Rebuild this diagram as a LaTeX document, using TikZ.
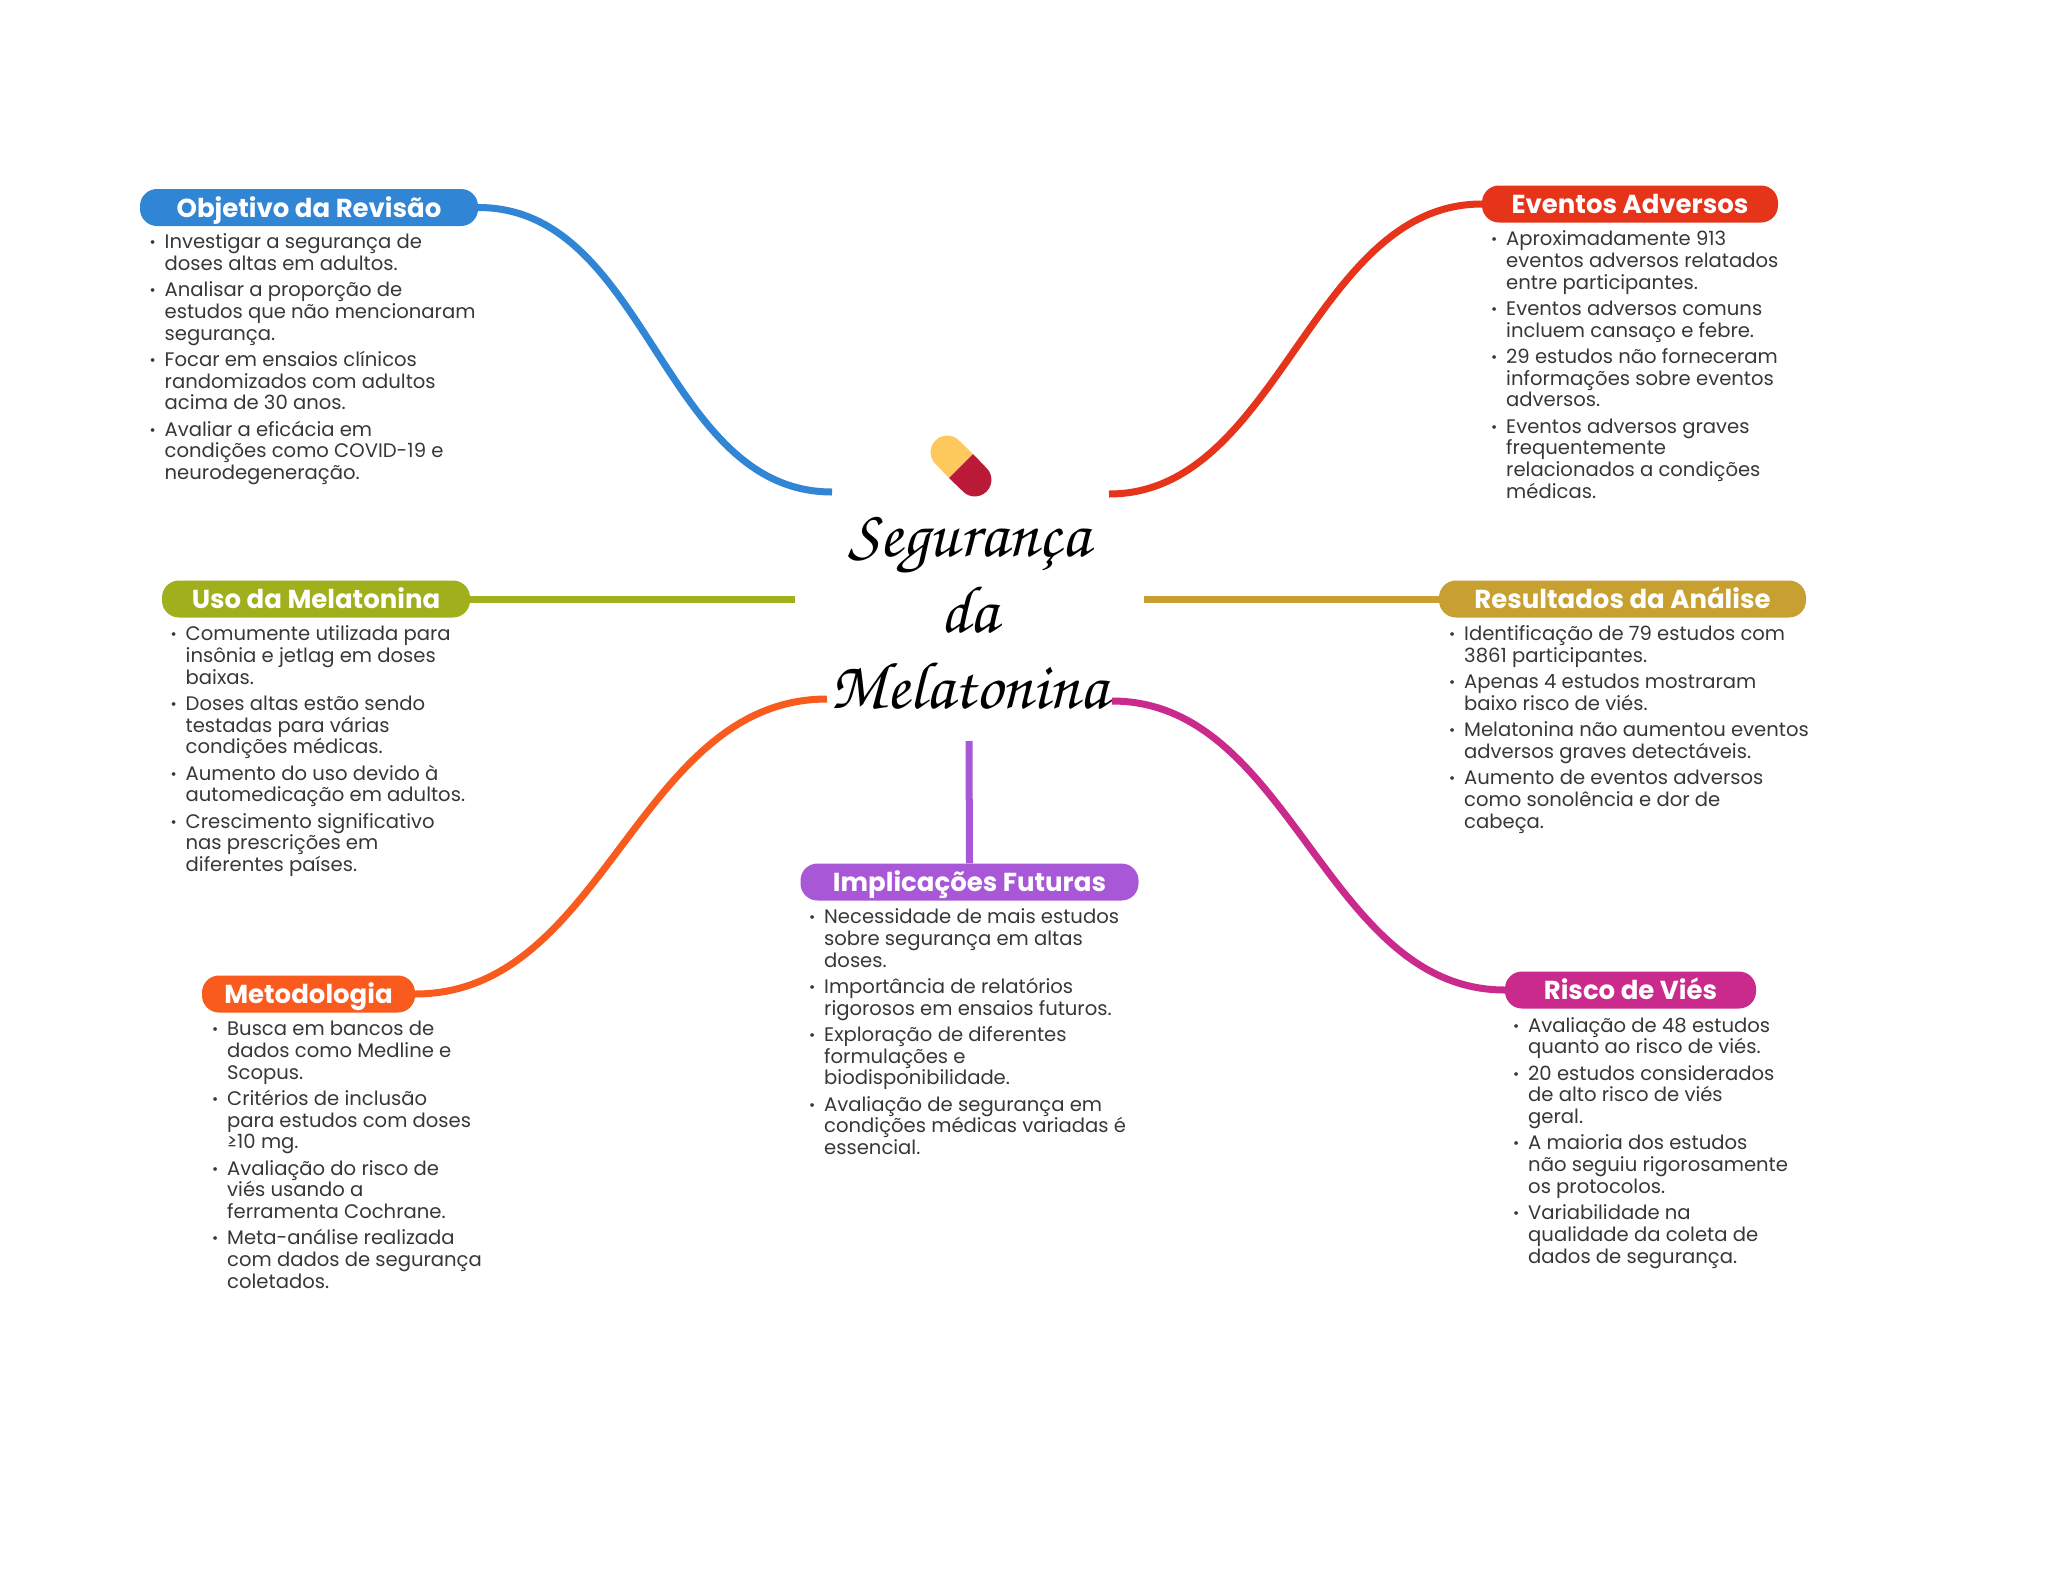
\documentclass[tikz,border=0pt]{standalone}
\usepackage[T1]{fontenc}
\usepackage{fontspec}
\setmainfont{Poppins}
\usepackage{xcolor}
\usetikzlibrary{positioning}
\definecolor{revblue}{RGB}{49,133,213}
\definecolor{advred}{RGB}{229,52,26}
\definecolor{useolive}{RGB}{160,176,28}
\definecolor{resgold}{RGB}{200,160,50}
\definecolor{metorange}{RGB}{249,90,30}
\definecolor{futpurple}{RGB}{168,87,214}
\definecolor{biasmagenta}{RGB}{201,42,140}
\definecolor{pillyellow}{RGB}{253,200,92}
\definecolor{pillred}{RGB}{186,26,56}
\definecolor{bodygrey}{RGB}{55,55,55}
\newcommand{\bul}{\leavevmode\llap{\raisebox{1pt}{\fontsize{15}{15}\selectfont\textbullet}\hspace{9pt}}}
\newcommand{\scripttitle}{\fontencoding{T1}\fontfamily{pzc}\fontseries{mb}\fontshape{it}\fontsize{67}{76}\selectfont}
\tikzset{
    topic/.style={rounded corners=17pt, fill=#1, minimum height=37pt,
                  inner sep=0pt, text height=19pt, text depth=0pt,
                  font=\fontsize{26}{30}\selectfont\bfseries,
                  text=white, align=center},
    bullets/.style={anchor=north west, inner sep=0pt, align=left,
                    text=bodygrey, font=\fontsize{19.6}{21.75}\selectfont},
    branch/.style={line width=7pt, #1},
}
\begin{document}
\begin{tikzpicture}[x=1pt, y=-1pt]
    \useasboundingbox (0,0) rectangle (2048,1569);

    % centre
    \node[align=center, font=\scripttitle, inner sep=0pt] (title) at (969,612) {Seguran\c ca\\da\\Melatonina};
    \fill[pillyellow] (949,478) -- (973,454) [rounded corners=16pt] -- (947,429) -- (924,452) [sharp corners] -- cycle;
    \fill[pillred] (949,478) -- (973,454) [rounded corners=16pt] -- (998,480) -- (975,503) [sharp corners] -- cycle;

    % free ends at the centre
    \coordinate (hubRev) at (832,492);
    \coordinate (hubAdv) at (1109,494);
    \coordinate (hubUse) at (795,599);
    \coordinate (hubRes) at (1144,599);
    \coordinate (hubMet) at (827,699);
    \coordinate (hubBias) at (1112,701);
    \coordinate (hubFut) at (969,741);

    % topics
    \node[topic=revblue, minimum width=338pt] (revTopic) at (309,207.5) {Objetivo da Revisão};
    \node[topic=advred, minimum width=296pt] (advTopic) at (1630,204) {Eventos Adversos};
    \node[topic=useolive, minimum width=308pt] (useTopic) at (316,599) {Uso da Melatonina};
    \node[topic=resgold, minimum width=367pt] (resTopic) at (1622.5,599) {Resultados da Análise};
    \node[topic=metorange, minimum width=213pt] (metTopic) at (308.5,994) {Metodologia};
    \node[topic=futpurple, minimum width=338pt] (futTopic) at (969.5,882) {Implicações Futuras};
    \node[topic=biasmagenta, minimum width=251pt] (biasTopic) at (1630.5,990) {Risco de Viés};

    \draw[branch=revblue] (revTopic.east) .. controls +(170,0) and +(-170,0) .. (hubRev);
    \draw[branch=advred] (advTopic.west) .. controls +(-170,0) and +(170,0) .. (hubAdv);
    \draw[branch=useolive] (useTopic.east) -- (hubUse);
    \draw[branch=resgold] (resTopic.west) -- (hubRes);
    \draw[branch=metorange] (metTopic.east) .. controls +(190,0) and +(-190,0) .. (hubMet);
    \draw[branch=biasmagenta] (biasTopic.west) .. controls +(-180,0) and +(180,0) .. (hubBias);
    \draw[branch=futpurple] (futTopic.north) -- (hubFut);

    % lists
    \node[bullets] (revList) at (164.5,233.5) {\bul Investigar a segurança de\\doses altas em adultos.\\[4.5pt]
        \bul Analisar a proporção de\\estudos que não mencionaram\\segurança.\\[4.5pt]
        \bul Focar em ensaios clínicos\\randomizados com adultos\\acima de 30 anos.\\[4.5pt]
        \bul Avaliar a eficácia em\\condições como COVID-19 e\\neurodegeneração.};
    \node[bullets] (advList) at (1506,230.5) {\bul Aproximadamente 913\\eventos adversos relatados\\entre participantes.\\[4.5pt]
        \bul Eventos adversos comuns\\incluem cansaço e febre.\\[4.5pt]
        \bul 29 estudos não forneceram\\informações sobre eventos\\adversos.\\[4.5pt]
        \bul Eventos adversos graves\\frequentemente\\relacionados a condições\\médicas.};
    \node[bullets] (useList) at (185.5,625.5) {\bul Comumente utilizada para\\insônia e jetlag em doses\\baixas.\\[4.5pt]
        \bul Doses altas estão sendo\\testadas para várias\\condições médicas.\\[4.5pt]
        \bul Aumento do uso devido à\\automedicação em adultos.\\[4.5pt]
        \bul Crescimento significativo\\nas prescrições em\\diferentes países.};
    \node[bullets] (resList) at (1464,625.5) {\bul Identificação de 79 estudos com\\3861 participantes.\\[4.5pt]
        \bul Apenas 4 estudos mostraram\\baixo risco de viés.\\[4.5pt]
        \bul Melatonina não aumentou eventos\\adversos graves detectáveis.\\[4.5pt]
        \bul Aumento de eventos adversos\\como sonolência e dor de\\cabeça.};
    \node[bullets] (metList) at (227,1021) {\bul Busca em bancos de\\dados como Medline e\\Scopus.\\[4.5pt]
        \bul Critérios de inclusão\\para estudos com doses\\≥10 mg.\\[4.5pt]
        \bul Avaliação do risco de\\viés usando a\\ferramenta Cochrane.\\[4.5pt]
        \bul Meta-análise realizada\\com dados de segurança\\coletados.};
    \node[bullets] (futList) at (824,908.5) {\bul Necessidade de mais estudos\\sobre segurança em altas\\doses.\\[4.5pt]
        \bul Importância de relatórios\\rigorosos em ensaios futuros.\\[4.5pt]
        \bul Exploração de diferentes\\formulações e\\biodisponibilidade.\\[4.5pt]
        \bul Avaliação de segurança em\\condições médicas variadas é\\essencial.};
    \node[bullets] (biasList) at (1528,1017) {\bul Avaliação de 48 estudos\\quanto ao risco de viés.\\[4.5pt]
        \bul 20 estudos considerados\\de alto risco de viés\\geral.\\[4.5pt]
        \bul A maioria dos estudos\\não seguiu rigorosamente\\os protocolos.\\[4.5pt]
        \bul Variabilidade na\\qualidade da coleta de\\dados de segurança.};
\end{tikzpicture}
\end{document}
